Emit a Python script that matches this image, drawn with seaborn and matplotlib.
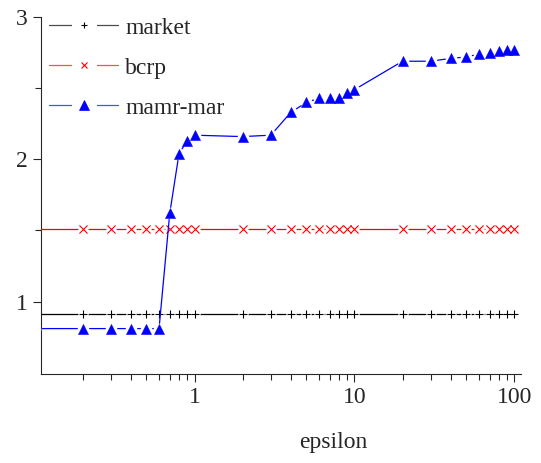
import numpy as np
import pandas as pd
import matplotlib
matplotlib.use("Agg")
import matplotlib.pyplot as plt
import seaborn as sns
from matplotlib.ticker import FixedLocator, NullFormatter
from matplotlib.lines import Line2D
from matplotlib.legend_handler import HandlerTuple

epsilon = [0.1, 0.2, 0.3, 0.4, 0.5, 0.6, 0.7, 0.8, 0.9, 1, 2, 3, 4, 5, 6, 7, 8, 9, 10,
           20, 30, 40, 50, 60, 70, 80, 90, 100]
market = [0.91] * len(epsilon)
bcrp = [1.51] * len(epsilon)
mamr_mar = [0.81, 0.81, 0.81, 0.81, 0.81, 0.81, 1.62, 2.04, 2.13, 2.17, 2.16, 2.17,
            2.33, 2.40, 2.43, 2.43, 2.43, 2.47, 2.49, 2.69, 2.69, 2.71, 2.72, 2.74,
            2.75, 2.76, 2.77, 2.77]
series_names = ["market", "bcrp", "mamr-mar"]
y_tick_labels = ["1", "2", "3"]
x_tick_labels = ["1", "10", "100"]

sns.set_style("ticks")
plt.rcParams["font.family"] = ["Liberation Serif", "DejaVu Serif"]
plt.rcParams["font.size"] = 17

fig = plt.figure(figsize=(5.41, 4.63), dpi=100)
ax = fig.add_axes([0.075, 0.192, 0.888, 0.771])

styles = {
    "market": dict(color="black", marker="+", s=36, lw=0.8, halo=55),
    "bcrp": dict(color="red", marker="x", s=34, lw=0.8, halo=55),
    "mamr-mar": dict(color="blue", marker="^", s=52, lw=0.4, halo=70),
}
data = {"market": market, "bcrp": bcrp, "mamr-mar": mamr_mar}
for i, name in enumerate(series_names):
    df = pd.DataFrame({"epsilon": epsilon, "value": data[name]})
    st = styles[name]
    z = 2 + i
    sns.lineplot(data=df, x="epsilon", y="value", ax=ax, color=st["color"],
                 linewidth=0.9, legend=False, estimator=None, zorder=z)
    sns.scatterplot(data=df, x="epsilon", y="value", ax=ax, color="white",
                    marker="o", s=st["halo"], linewidth=0, legend=False, zorder=z + 0.1)
    sns.scatterplot(data=df, x="epsilon", y="value", ax=ax, color=st["color"],
                    marker=st["marker"], s=st["s"], linewidth=st["lw"],
                    edgecolor=st["color"], legend=False, zorder=z + 0.2)

ax.set_xscale("log")
ax.set_xlim(0.109, 110)
ax.set_ylim(0.49, 3.0)
ax.set_xticks([1, 10, 100])
ax.set_xticklabels(x_tick_labels)
ax.xaxis.set_minor_locator(FixedLocator([0.2, 0.3, 0.4, 0.5, 0.6, 0.7, 0.8, 0.9,
                                         2, 3, 4, 5, 6, 7, 8, 9,
                                         20, 30, 40, 50, 60, 70, 80, 90]))
ax.xaxis.set_minor_formatter(NullFormatter())
ax.set_yticks([1, 2, 3])
ax.set_yticklabels(y_tick_labels)
ax.yaxis.set_minor_locator(FixedLocator([1.5, 2.5]))
ax.tick_params(axis="both", which="major", length=6, width=0.8, direction="out", labelsize=17, pad=3)
ax.tick_params(axis="both", which="minor", length=4.5, width=0.8, direction="out")
sns.despine(ax=ax)
for s in ("left", "bottom"):
    ax.spines[s].set_linewidth(0.8)
ax.set_xlabel("epsilon", fontsize=17)
ax.xaxis.set_label_coords(0.609, -0.163)
ax.set_ylabel("")

leg_markers = {"market": ("+", 4.5, 0.8), "bcrp": ("x", 4.5, 0.8), "mamr-mar": ("^", 6.5, 0.5)}
handles = []
for name in series_names:
    c = styles[name]["color"]
    m, ms, mew = leg_markers[name]
    base = Line2D([0, 1], [0, 0], color=c, lw=0.9, alpha=0.7)
    gap = Line2D([0], [0], ls="", marker="_", ms=18, mew=4, mec="white", mfc="white")
    mk = Line2D([0], [0], color=c, ls="", marker=m, ms=ms, mew=mew, mec=c, mfc=c)
    handles.append((base, gap, mk))

leg = ax.legend(handles, series_names, loc="upper left", bbox_to_anchor=(0.018, 1.0),
                frameon=False, fontsize=17, handlelength=2.92, numpoints=1,
                handler_map={tuple: HandlerTuple(ndivide=1, pad=0)},
                handletextpad=0.3, labelspacing=0.78,
                borderaxespad=0.0, borderpad=0.0)

fig.savefig("out.png", dpi=100)
